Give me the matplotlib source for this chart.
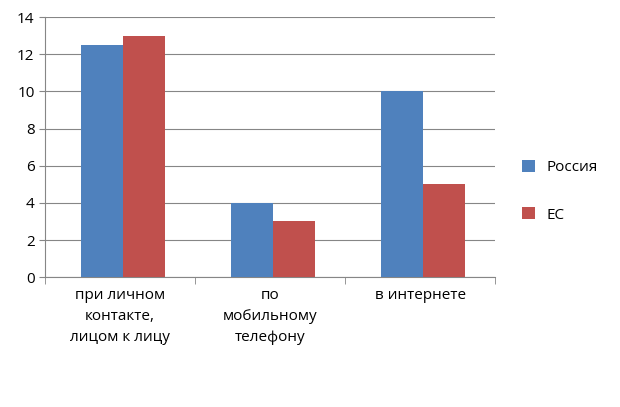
import matplotlib
matplotlib.use("Agg")
import matplotlib.pyplot as plt
import numpy as np

plt.rcParams['font.family'] = ['Open Sans', 'DejaVu Sans']

categories = ["при личном\nконтакте,\nлицом к лицу", "по\nмобильному\nтелефону", "в интернете"]
russia = [12.5, 4, 10]
eu = [13, 3, 5]

fig = plt.figure(figsize=(6.2, 4.07), dpi=100)
ax = fig.add_axes([0.0726, 0.319, 0.726, 0.639])

x = np.arange(len(categories))
w = 0.28
ax.bar(x - w / 2 + 0.02, russia, w, color="#4F81BD", label="Россия", zorder=3)
ax.bar(x + w / 2 + 0.02, eu, w, color="#C0504D", label="ЕС", zorder=3)

ax.set_xlim(-0.5, 2.5)
ax.set_ylim(0, 14)
ax.set_yticks(range(0, 15, 2))
ax.set_xticks(x)
ax.set_xticklabels(categories, fontsize=11, linespacing=1.55)
ax.tick_params(axis='y', labelsize=11, length=4, color="#868686")
ax.tick_params(axis='x', length=0, pad=8)
ax.set_xticks([-0.5, 0.5, 1.5, 2.5], minor=True)
ax.tick_params(axis='x', which='minor', length=5, color="#868686")
ax.grid(axis='y', color="#868686", linewidth=0.8, zorder=0)
for s in ["top", "right"]:
    ax.spines[s].set_visible(False)
for s in ["left", "bottom"]:
    ax.spines[s].set_color("#868686")

ax.legend(loc="center left", bbox_to_anchor=(1.03, 0.33), frameon=False,
          fontsize=11, handlelength=0.8, handleheight=0.8, labelspacing=2.1)

fig.savefig("out.png", dpi=100)
